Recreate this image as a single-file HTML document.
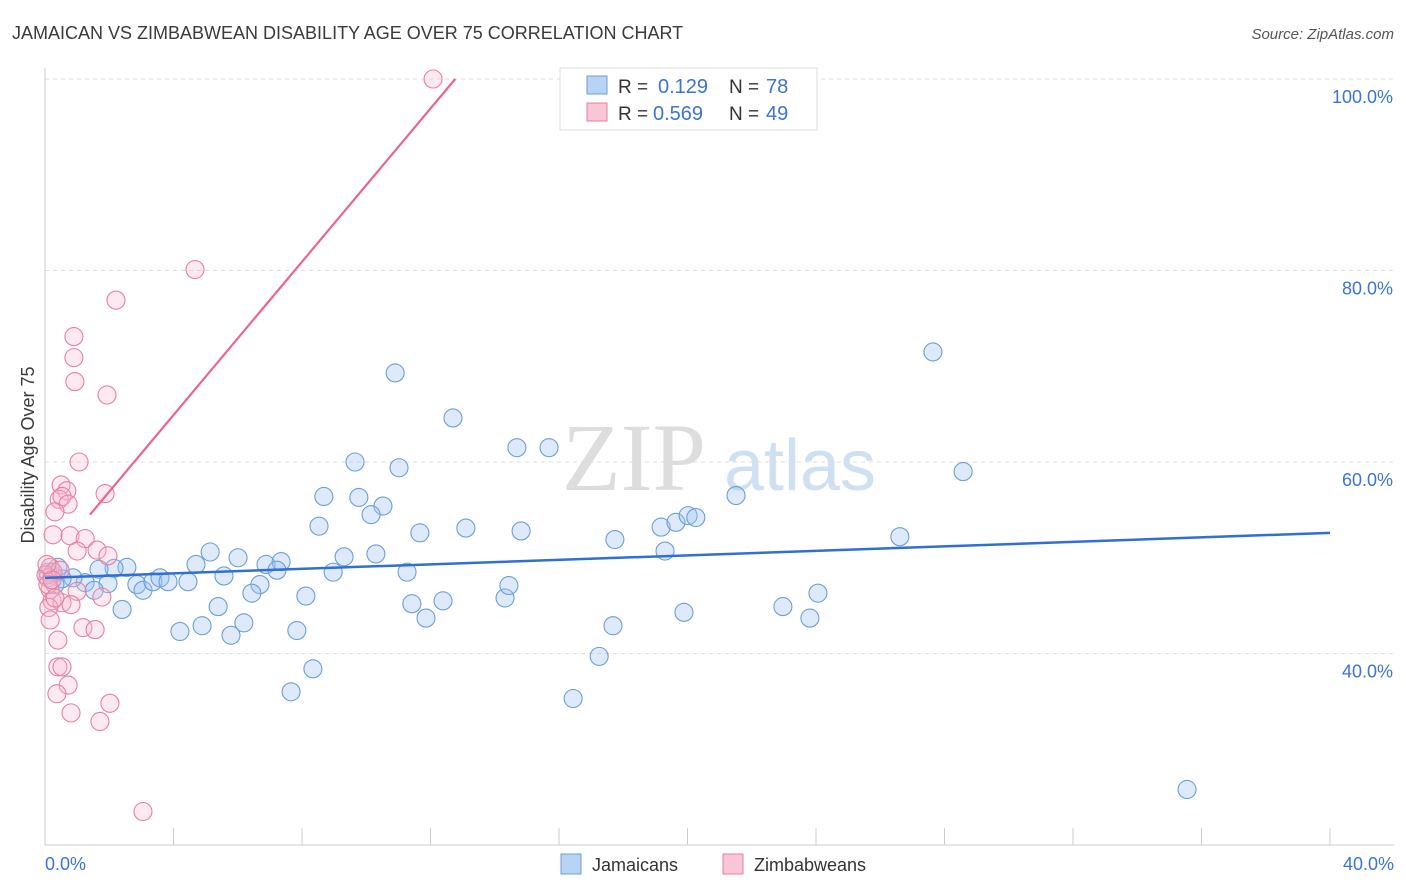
<!DOCTYPE html>
<html><head><meta charset="utf-8"><style>
body{margin:0;background:#fff;font-family:"Liberation Sans",sans-serif;}
svg{display:block}
</style></head><body>
<svg id="chart" width="1406" height="892" xmlns="http://www.w3.org/2000/svg">
<text x="12" y="39" font-size="18" fill="#3a3a3a">JAMAICAN VS ZIMBABWEAN DISABILITY AGE OVER 75 CORRELATION CHART</text>
<text x="1394" y="39" font-size="15" fill="#555" font-style="italic" text-anchor="end">Source: ZipAtlas.com</text>
<text x="634" y="490" font-size="96" fill="#ddd" font-family="Liberation Serif,serif" text-anchor="middle">ZIP</text>
<text x="800" y="490" font-size="72" fill="#cfe0f3" text-anchor="middle">atlas</text>
<g id="grid"></g><g id="axes"></g><g id="pts"></g><g id="lines"></g>
<text transform="translate(34,455) rotate(-90)" font-size="18" fill="#3a3a3a" text-anchor="middle">Disability Age Over 75</text>
<g>
<rect x="560" y="68" width="257" height="62" fill="#fff" stroke="#ddd"/>
<rect x="587" y="76" width="20" height="18" fill="#b9d3f3" stroke="#6a9fd8"/>
<rect x="587" y="103" width="20" height="18" fill="#f9c6d6" stroke="#e87fa0"/>
<text x="618" y="93" font-size="19" fill="#333">R =</text>
<text x="658" y="93" font-size="20" fill="#3b74d6">0.129</text>
<text x="729" y="93" font-size="19" fill="#333">N =</text>
<text x="766" y="93" font-size="20" fill="#3b74d6">78</text>
<text x="618" y="120" font-size="19" fill="#333">R =</text>
<text x="653" y="120" font-size="20" fill="#3b74d6">0.569</text>
<text x="729" y="120" font-size="19" fill="#333">N =</text>
<text x="766" y="120" font-size="20" fill="#3b74d6">49</text>
</g>
<g>
<rect x="561" y="854" width="20" height="20" fill="#b9d3f3" stroke="#6a9fd8"/>
<text x="592" y="871" font-size="18" fill="#333">Jamaicans</text>
<rect x="723" y="854" width="20" height="20" fill="#f9c6d6" stroke="#e87fa0"/>
<text x="754" y="871" font-size="18" fill="#333">Zimbabweans</text>
</g>
</svg>
<script>
const yTicks=[100,80,60,40];
const yTickLabels=["100.0%","80.0%","60.0%","40.0%"];
const xTickLabels=["0.0%","40.0%"];
const blueX=[10.9,12.7,14.69,15.69,9.65,11.02,8.68,9.77,10.52,10.15,8.53,11.67,13.1,14.82,17.74,19.18,19.64,20.02,20.26,21.51,19.3,26.61,27.64,28.58,5.14,6.01,4.7,5.57,6.88,7.35,7.22,9.31,10.3,11.27,8.97,6.69,6.44,8.12,5.39,6.19,4.89,4.2,5.79,7.84,11.42,11.86,12.39,14.32,14.44,17.68,17.25,16.44,19.89,22.97,23.81,24.06,7.66,8.34,35.55,2.55,2.15,1.68,1.25,0.87,0.53,0.22,0.09,0.31,1.96,2.4,2.86,3.05,3.36,3.58,3.83,4.45,1.53,0.4];
const blueY=[69.3,64.6,61.5,61.5,60.0,59.4,56.4,56.3,55.4,54.5,53.3,52.6,53.1,52.8,51.9,53.2,53.7,54.4,54.2,56.5,50.7,52.2,71.5,59.0,50.6,50.0,49.3,48.1,49.3,49.6,48.7,50.1,50.4,48.5,48.5,47.2,46.3,46.0,44.9,43.2,42.9,42.3,41.9,42.4,45.2,43.7,45.5,45.8,47.1,42.9,39.7,35.3,44.3,44.9,43.7,46.3,36.0,38.4,25.8,49.0,48.9,48.8,47.4,47.9,47.8,48.2,48.5,47.2,47.3,44.6,47.2,46.6,47.5,47.9,47.5,47.5,46.6,49.0];
const pinkX=[12.08,4.67,2.21,0.9,0.9,0.93,1.93,1.06,1.87,0.5,0.68,0.44,0.53,0.72,0.31,0.25,0.78,1.25,1.62,1.96,1.0,0.16,0.25,0.09,0.16,1.0,1.77,0.22,0.53,0.81,0.12,0.16,1.18,1.56,0.4,0.4,0.53,0.72,0.37,0.81,2.02,1.71,3.05,0.03,0.09,0.31,0.47,0.22,0.06];
const pinkY=[100,80.1,76.9,73.1,70.9,68.4,67.0,60.0,56.7,57.6,57.0,56.1,56.4,55.6,54.8,52.4,52.3,52.0,50.8,50.2,50.7,49.0,48.5,47.9,46.7,46.5,45.9,45.5,45.3,45.1,44.8,43.5,42.7,42.5,41.4,38.6,38.6,36.7,35.8,33.8,34.8,32.9,23.5,48.2,47.2,45.8,48.7,47.7,49.3];
const blueTrend=[[0,47.9],[40,52.6]];
const pinkTrend=[[1.4,54.5],[12.77,100]];
const NS="http://www.w3.org/2000/svg";
const X=v=>45+v*(1285/40);
const Y=v=>79+(100-v)*(766/80);
function mk(tag,attrs,parent){const e=document.createElementNS(NS,tag);for(const k in attrs)e.setAttribute(k,attrs[k]);parent.appendChild(e);return e;}
const grid=document.getElementById('grid'),axes=document.getElementById('axes');
yTicks.forEach((t,i)=>{
 const l=mk('line',{x1:45,x2:1394,y1:Y(t),y2:Y(t),stroke:'#ddd','stroke-dasharray':'4,4'},grid);
 
 
 const tx=mk('text',{x:1393,y:Y(t)+24,'font-size':18,fill:'#3b74d6','text-anchor':'end'},axes);
 tx.textContent=yTickLabels[i];
 
 
});
const ax=mk('line',{x1:45,x2:45,y1:68,y2:845,stroke:'#ccc'},axes);


const bx=mk('line',{x1:45,x2:1394,y1:845,y2:845,stroke:'#ccc'},axes);


for(let i=0;i<=10;i++){
 const t=mk('line',{x1:X(i*4),x2:X(i*4),y1:828,y2:845,stroke:'#ccc'},axes);
 
 
}
[[0,'start',45],[40,'end',1394]].forEach((d,i)=>{
 const tx=mk('text',{x:d[2],y:870,'font-size':18,fill:'#3b74d6','text-anchor':d[1]},axes);
 tx.textContent=xTickLabels[i];
 
 
});
const pts=document.getElementById('pts');
blueX.forEach((v,i)=>{
 const c=mk('circle',{cx:X(v),cy:Y(blueY[i]),r:9,fill:'rgba(160,195,240,0.35)',stroke:'#6a9fd8','stroke-width':1.1},pts);
 
 
});
pinkX.forEach((v,i)=>{
 const c=mk('circle',{cx:X(v),cy:Y(pinkY[i]),r:9,fill:'rgba(247,185,205,0.3)',stroke:'#e87fa0','stroke-width':1.1},pts);
 
 
});
const lines=document.getElementById('lines');
const bl=mk('line',{x1:X(blueTrend[0][0]),y1:Y(blueTrend[0][1]),x2:X(blueTrend[1][0]),y2:Y(blueTrend[1][1]),stroke:'#2f6fd6','stroke-width':2.5},lines);


const pl=mk('line',{x1:X(pinkTrend[0][0]),y1:Y(pinkTrend[0][1]),x2:X(pinkTrend[1][0]),y2:Y(pinkTrend[1][1]),stroke:'#e8668f','stroke-width':2.2},lines);


</script>
</body></html>
